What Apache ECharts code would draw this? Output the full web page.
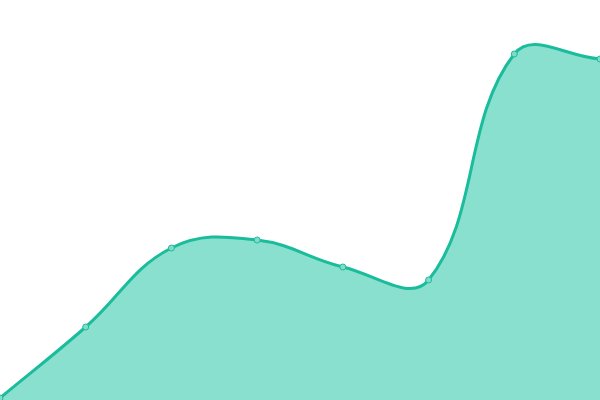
<!DOCTYPE html>
<html><head><meta charset="utf-8">
<script src="https://cdn.jsdelivr.net/npm/echarts@6/dist/echarts.min.js"></script>
<style>html,body{margin:0;padding:0;background:#fff}#c{width:600px;height:400px}</style>
</head><body><div id="c"></div>
<script>
const categories = ['A','B','C','D','E','F','G','H'];
const values = [2, 73, 152, 160, 133, 120, 346, 341];
const TENSION = 0.4;

function buildPath(api, closeToBottom) {
  const pts = values.map((v, i) => api.coord([i, v]));
  const n = pts.length;
  const W = api.getWidth(), H = api.getHeight();
  const clampX = x => Math.max(0, Math.min(W, x));
  const clampY = y => Math.max(0, Math.min(H, y));
  const cps = pts.map((cur, i) => {
    const prev = pts[Math.max(i - 1, 0)];
    const next = pts[Math.min(i + 1, n - 1)];
    const d01 = Math.hypot(cur[0] - prev[0], cur[1] - prev[1]);
    const d12 = Math.hypot(next[0] - cur[0], next[1] - cur[1]);
    let s01 = d01 / (d01 + d12), s12 = d12 / (d01 + d12);
    if (isNaN(s01)) s01 = 0;
    if (isNaN(s12)) s12 = 0;
    const fa = TENSION * s01, fb = TENSION * s12;
    return {
      p: [clampX(cur[0] - fa * (next[0] - prev[0])), clampY(cur[1] - fa * (next[1] - prev[1]))],
      n: [clampX(cur[0] + fb * (next[0] - prev[0])), clampY(cur[1] + fb * (next[1] - prev[1]))]
    };
  });
  let d = 'M' + pts[0][0] + ' ' + pts[0][1];
  for (let i = 1; i < n; i++) {
    d += ' C' + cps[i - 1].n[0] + ' ' + cps[i - 1].n[1] + ' ' + cps[i].p[0] + ' ' + cps[i].p[1] + ' ' + pts[i][0] + ' ' + pts[i][1];
  }
  if (closeToBottom) {
    const b1 = api.coord([n - 1, 0]), b0 = api.coord([0, 0]);
    d += ' L' + b1[0] + ' ' + b1[1] + ' L' + b0[0] + ' ' + b0[1] + ' Z';
  }
  return d;
}

const chart = echarts.init(document.getElementById('c'));
chart.setOption({
  animation: false,
  grid: {left: 0, right: 0, top: 0, bottom: 0},
  xAxis: {type: 'category', data: categories, boundaryGap: false, show: false},
  yAxis: {type: 'value', min: 0, max: 400, show: false},
  series: [{
    type: 'custom',
    data: [[0, values[0]]],
    clip: false,
    silent: true,
    z: 1,
    renderItem: function (params, api) {
      return {
        type: 'group',
        children: [{
          type: 'path',
          shape: {pathData: buildPath(api, true)},
          style: {fill: '#8ae0cf', stroke: null}
        }, {
          type: 'path',
          shape: {pathData: buildPath(api, false)},
          style: {fill: null, stroke: '#1abc9c', lineWidth: 3, lineJoin: 'round'}
        }]
      };
    }
  }, {
    type: 'scatter',
    data: values,
    z: 3,
    symbol: 'circle',
    symbolSize: 6,
    itemStyle: {color: '#80dcc6', borderColor: '#1abc9c', borderWidth: 1, opacity: 1}
  }]
});
</script></body></html>
